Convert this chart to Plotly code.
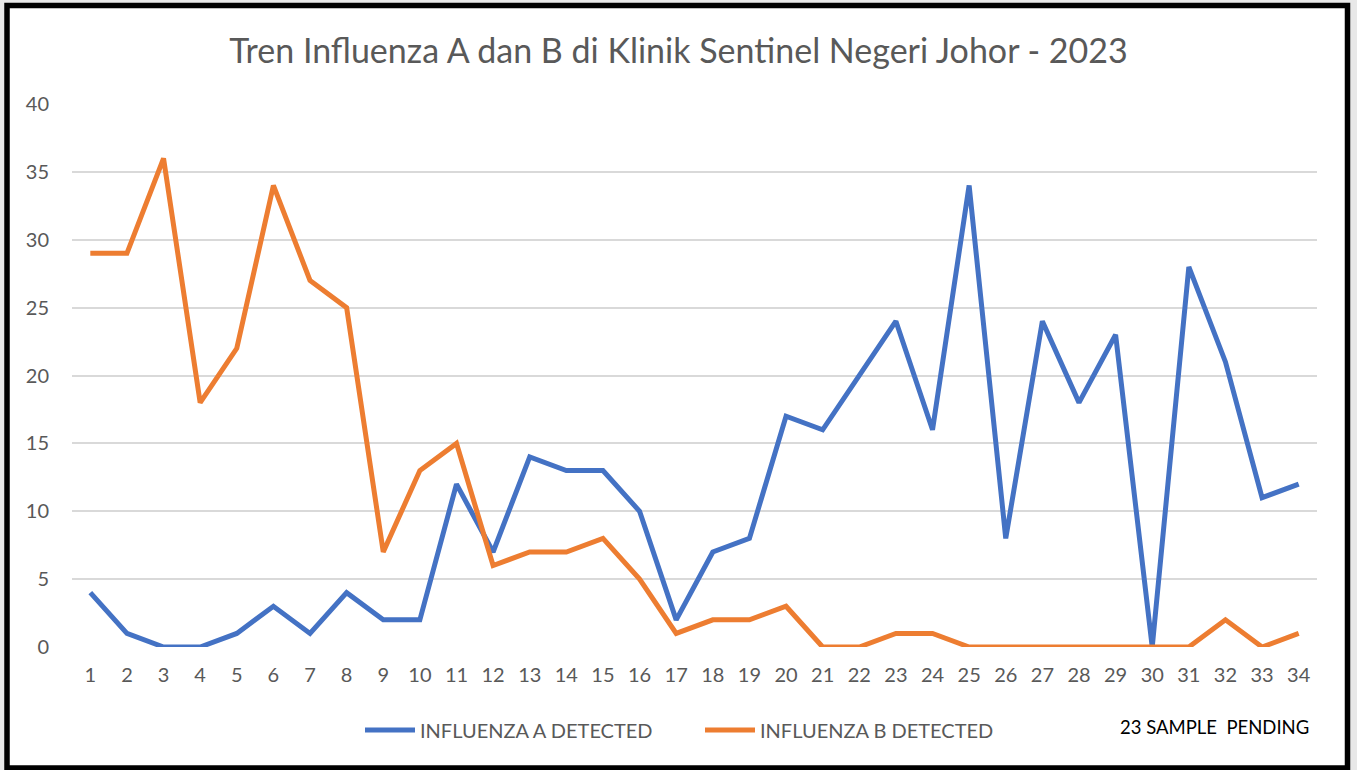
import plotly.graph_objects as go

weeks = list(range(1, 35))
flu_a = [4, 1, 0, 0, 1, 3, 1, 4, 2, 2, 12, 7, 14, 13, 13, 10, 2, 7, 8, 17,
         16, 20, 24, 16, 34, 8, 24, 18, 23, 0, 28, 21, 11, 12]
flu_b = [29, 29, 36, 18, 22, 34, 27, 25, 7, 13, 15, 6, 7, 7, 8, 5, 1, 2, 2, 3,
         0, 0, 1, 1, 0, 0, 0, 0, 0, 0, 0, 2, 0, 1]
y_ticks = [0, 5, 10, 15, 20, 25, 30, 35, 40]
title = "Tren Influenza A dan B di Klinik Sentinel Negeri Johor - 2023"
note = "23 SAMPLE  PENDING"

FONT = "Lato"
W, H = 1357, 770
L, R, T, B = 72, 40, 104, 123
PW, PH = W - L - R, H - T - B


def px(x):
    return (x - L) / PW


def py(y):
    return (H - B - y) / PH


fig = go.Figure()
fig.add_trace(go.Scatter(x=weeks, y=flu_a, mode="lines", name="INFLUENZA A DETECTED",
                         line=dict(color="#4472C4", width=5)))
fig.add_trace(go.Scatter(x=weeks, y=flu_b, mode="lines", name="INFLUENZA B DETECTED",
                         line=dict(color="#ED7D31", width=5)))

fig.update_layout(
    width=W, height=H,
    paper_bgcolor="#e8e8e8", plot_bgcolor="white",
    margin=dict(l=L, r=R, t=T, b=B),
    title=dict(text=title, x=0.5, xanchor="center", y=1 - 51 / H, yanchor="middle",
               font=dict(family=FONT, size=34, color="#595959")),
    font=dict(family=FONT, color="#595959", size=20),
    xaxis=dict(tickmode="array", tickvals=weeks, ticktext=[str(w) for w in weeks],
               range=[0.5, 34.5], showgrid=False, zeroline=False, showline=False,
               ticks="", ticklabelstandoff=14, tickfont=dict(size=20, color="#595959")),
    yaxis=dict(tickmode="array", tickvals=y_ticks, range=[0, 40], showgrid=True,
               gridcolor="#d9d9d9", gridwidth=1.5, zeroline=False, showline=False,
               ticks="", ticklabelstandoff=22, tickfont=dict(size=20, color="#595959")),
    legend=dict(orientation="h", x=px(360), xanchor="left", y=py(730), yanchor="middle",
                font=dict(size=20, color="#595959"), bgcolor="rgba(0,0,0,0)",
                itemwidth=50, entrywidth=275, entrywidthmode="pixels"),
    showlegend=True,
)

fig.add_shape(type="rect", xref="paper", yref="paper", layer="below",
              x0=px(7), x1=px(1347.5), y0=py(768), y1=py(5.5),
              line=dict(color="black", width=5.5), fillcolor="white")

fig.add_annotation(text=note, xref="paper", yref="paper", x=px(1214),
                   y=py(727), showarrow=False, xanchor="center", yanchor="middle",
                   font=dict(family=FONT, size=18.5, color="black"))

fig.write_html("out.html", config={"displayModeBar": False},
               post_script="document.body.style.margin='0';"
                           "document.body.style.background='#e8e8e8';"
                           "document.body.style.overflow='hidden';")
